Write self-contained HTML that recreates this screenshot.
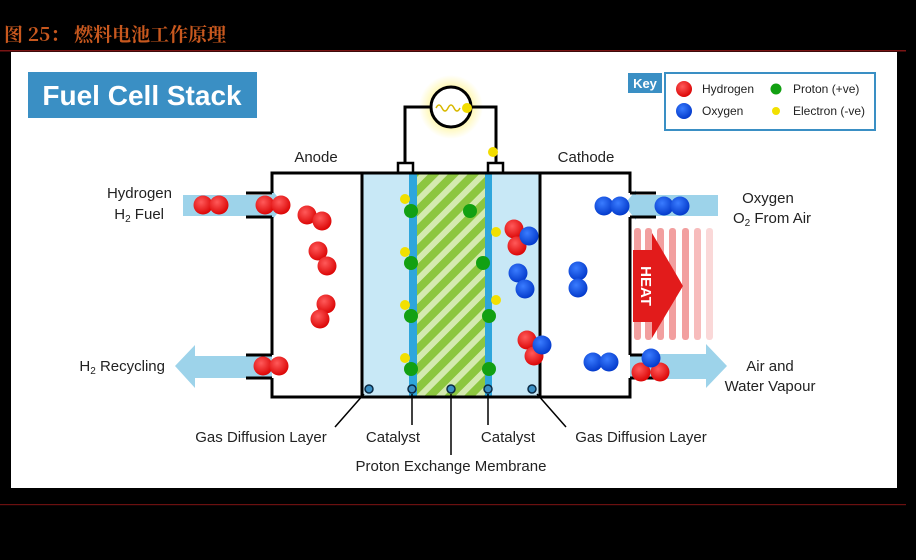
<!DOCTYPE html>
<html><head><meta charset="utf-8"><style>
html,body{margin:0;padding:0;background:#000;}
body{width:916px;height:555px;overflow:hidden;}
</style></head><body>
<svg width="916" height="555" viewBox="0 0 916 555" xmlns="http://www.w3.org/2000/svg">
<defs>
<radialGradient id="r" cx="0.4" cy="0.35" r="0.7"><stop offset="0" stop-color="#ff5a5a"/><stop offset="1" stop-color="#d90000"/></radialGradient>
<radialGradient id="b" cx="0.4" cy="0.35" r="0.7"><stop offset="0" stop-color="#3a7cff"/><stop offset="1" stop-color="#0036c8"/></radialGradient>
<radialGradient id="glow"><stop offset="0.5" stop-color="#fff59a"/><stop offset="1" stop-color="#fff59a" stop-opacity="0"/></radialGradient>
<pattern id="hatch" width="14" height="14" patternUnits="userSpaceOnUse" patternTransform="rotate(45)"><rect width="14" height="14" fill="#8cc63f"/><rect width="6" height="14" fill="#d4eab0"/></pattern>
</defs>
<rect width="916" height="555" fill="#000"/>
<text x="4" y="41" font-family="'Noto Serif CJK SC','Liberation Serif',serif" font-weight="bold" font-size="19" fill="#c8581e">图 25：   燃料电池工作原理</text>
<rect x="0" y="50" width="906" height="1.5" fill="#7a1414"/>
<rect x="0" y="504" width="906" height="1.2" fill="#6a1010"/>
<rect x="11" y="52" width="886" height="436" fill="#fff"/>
<rect x="28" y="72" width="229" height="46" fill="#3a8fc4"/>
<text x="142" y="105" text-anchor="middle" font-family="'Liberation Sans',sans-serif" font-weight="bold" font-size="28" fill="#fff">Fuel Cell Stack</text>

<!-- key -->
<rect x="665" y="73" width="210" height="57" fill="#fff" stroke="#3a8fc4" stroke-width="2"/>
<rect x="628" y="73" width="34" height="20" fill="#3a8fc4"/>
<text x="645" y="88" text-anchor="middle" font-family="'Liberation Sans',sans-serif" font-weight="bold" font-size="13" fill="#fff">Key</text>
<g font-family="'Liberation Sans Narrow','Liberation Sans',sans-serif" font-size="12" fill="#222">
<circle cx="684" cy="89" r="8" fill="url(#r)"/><text x="702" y="93">Hydrogen</text>
<circle cx="684" cy="111" r="8" fill="url(#b)"/><text x="702" y="115">Oxygen</text>
<circle cx="776" cy="89" r="5.5" fill="#12a012"/><text x="793" y="93">Proton (+ve)</text>
<circle cx="776" cy="111" r="4" fill="#f2e000"/><text x="793" y="115">Electron (-ve)</text>
</g>

<!-- circuit -->
<circle cx="451" cy="107" r="32" fill="url(#glow)"/>
<path d="M405 165 V107 H430 M472 107 H496 V165" fill="none" stroke="#000" stroke-width="3"/>
<circle cx="451" cy="107" r="20" fill="#fff" stroke="#000" stroke-width="3"/>
<path d="M436 108 q3 -6 6 0 t6 0 t6 0 t6 0" fill="none" stroke="#d8b800" stroke-width="1.5"/>
<circle cx="467" cy="108" r="5" fill="#f2dc00"/>
<circle cx="493" cy="152" r="5" fill="#f2dc00"/>
<rect x="398" y="163" width="15" height="10" fill="#fff" stroke="#000" stroke-width="2.5"/>
<rect x="488" y="163" width="15" height="10" fill="#fff" stroke="#000" stroke-width="2.5"/>

<!-- heat stripes -->
<g fill="#f08888" opacity="0.8">
<rect x="634" y="228" width="7" height="112" rx="3"/><rect x="645" y="228" width="7" height="112" rx="3"/><rect x="657" y="228" width="7" height="112" rx="3"/><rect x="669" y="228" width="7" height="112" rx="3"/><rect x="682" y="228" width="7" height="112" rx="3"/><rect x="694" y="228" width="7" height="112" rx="3" opacity="0.7"/><rect x="706" y="228" width="7" height="112" rx="3" opacity="0.4"/>
</g>
<path d="M633 250 H652 V233 L683 286 L652 338 V322 H633 Z" fill="#e21b1b"/>
<text transform="translate(641,286) rotate(90)" text-anchor="middle" font-family="'Liberation Sans',sans-serif" font-weight="bold" font-size="15" fill="#fff">HEAT</text>

<!-- flow arrows -->
<path d="M183 195 H272 V190 L284 205 L272 220 V216 H183 Z" fill="#9dd3ea"/>
<path d="M272 356 H195 V345 L175 366 L195 388 V378 H272 Z" fill="#9dd3ea"/>
<path d="M718 195 H636 V190 L624 205 L636 220 V216 H718 Z" fill="#9dd3ea"/>
<path d="M630 354 H706 V344 L727 366 L706 388 V379 H630 Z" fill="#9dd3ea"/>

<!-- MEA -->
<rect x="362" y="173" width="178" height="224" fill="#c8e8f6"/>
<rect x="417" y="173" width="68" height="224" fill="url(#hatch)"/>
<rect x="409" y="173" width="8" height="224" fill="#2ea6dc"/>
<rect x="485" y="173" width="7" height="224" fill="#2ea6dc"/>

<!-- box -->
<g fill="none" stroke="#000" stroke-width="3">
<path d="M272 193 V173 H630 V193 M630 217 V355 M630 378 V397 H272 V378 M272 355 V217"/>
<path d="M362 173 V397 M540 173 V397"/>
<path d="M246 193 H272 M246 217 H272 M246 355 H272 M246 378 H272 M630 193 H656 M630 217 H656 M630 355 H656 M630 378 H656"/>
</g>

<!-- bottom markers & leaders -->
<g stroke="#000" stroke-width="1.5" fill="none">
<path d="M364 394 L335 427 M412 394 V425 M451 394 V455 M488 394 V425 M537 394 L566 427"/>
</g>
<g fill="#3a8fc4" stroke="#0a2a44" stroke-width="1.5">
<circle cx="369" cy="389" r="4"/><circle cx="412" cy="389" r="4"/><circle cx="451" cy="389" r="4"/><circle cx="488" cy="389" r="4"/><circle cx="532" cy="389" r="4"/>
</g>

<!-- molecules -->
<g fill="url(#r)">
<circle cx="203" cy="205" r="9.5"/><circle cx="219" cy="205" r="9.5"/>
<circle cx="265" cy="205" r="9.5"/><circle cx="281" cy="205" r="9.5"/>
<circle cx="307" cy="215" r="9.5"/><circle cx="322" cy="221" r="9.5"/>
<circle cx="318" cy="251" r="9.5"/><circle cx="327" cy="266" r="9.5"/>
<circle cx="326" cy="304" r="9.5"/><circle cx="320" cy="319" r="9.5"/>
<circle cx="263" cy="366" r="9.5"/><circle cx="279" cy="366" r="9.5"/>
<circle cx="514" cy="229" r="9.5"/><circle cx="517" cy="246" r="9.5"/>
<circle cx="527" cy="340" r="9.5"/><circle cx="534" cy="356" r="9.5"/>
<circle cx="641" cy="372" r="9.5"/><circle cx="660" cy="372" r="9.5"/>
</g>
<g fill="url(#b)">
<circle cx="529" cy="236" r="9.5"/>
<circle cx="518" cy="273" r="9.5"/><circle cx="525" cy="289" r="9.5"/>
<circle cx="542" cy="345" r="9.5"/>
<circle cx="604" cy="206" r="9.5"/><circle cx="620" cy="206" r="9.5"/>
<circle cx="664" cy="206" r="9.5"/><circle cx="680" cy="206" r="9.5"/>
<circle cx="578" cy="271" r="9.5"/><circle cx="578" cy="288" r="9.5"/>
<circle cx="593" cy="362" r="9.5"/><circle cx="609" cy="362" r="9.5"/>
<circle cx="651" cy="358" r="9.5"/>
</g>
<g fill="#12a012">
<circle cx="411" cy="211" r="7"/><circle cx="411" cy="263" r="7"/><circle cx="411" cy="316" r="7"/><circle cx="411" cy="369" r="7"/>
<circle cx="470" cy="211" r="7"/><circle cx="483" cy="263" r="7"/><circle cx="489" cy="316" r="7"/><circle cx="489" cy="369" r="7"/>
</g>
<g fill="#f2e000">
<circle cx="405" cy="199" r="5"/><circle cx="405" cy="252" r="5"/><circle cx="405" cy="305" r="5"/><circle cx="405" cy="358" r="5"/>
<circle cx="496" cy="232" r="5"/><circle cx="496" cy="300" r="5"/>
</g>

<!-- labels -->
<g font-family="'Liberation Sans Narrow','Liberation Sans',sans-serif" font-size="15" fill="#222">
<text x="316" y="162" text-anchor="middle">Anode</text>
<text x="586" y="162" text-anchor="middle">Cathode</text>
<text x="172" y="198" text-anchor="end">Hydrogen</text>
<text x="164" y="219" text-anchor="end">H<tspan font-size="10" dy="3">2</tspan><tspan dy="-3"> Fuel</tspan></text>
<text x="165" y="371" text-anchor="end">H<tspan font-size="10" dy="3">2</tspan><tspan dy="-3"> Recycling</tspan></text>
<text x="768" y="203" text-anchor="middle">Oxygen</text>
<text x="772" y="223" text-anchor="middle">O<tspan font-size="10" dy="3">2</tspan><tspan dy="-3"> From Air</tspan></text>
<text x="770" y="371" text-anchor="middle">Air and</text>
<text x="770" y="391" text-anchor="middle">Water Vapour</text>
<text x="261" y="442" text-anchor="middle">Gas Diffusion Layer</text>
<text x="393" y="442" text-anchor="middle">Catalyst</text>
<text x="508" y="442" text-anchor="middle">Catalyst</text>
<text x="641" y="442" text-anchor="middle">Gas Diffusion Layer</text>
<text x="451" y="471" text-anchor="middle">Proton Exchange Membrane</text>
</g>
</svg>
</body></html>
